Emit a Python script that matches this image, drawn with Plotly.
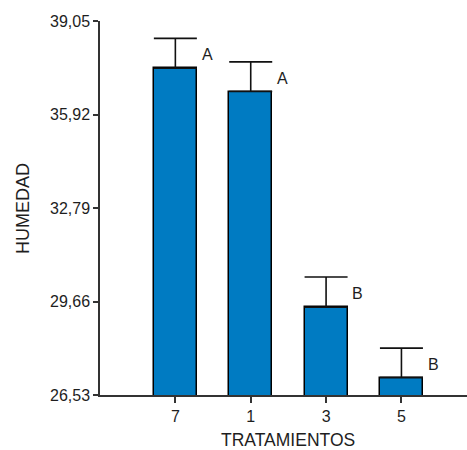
import plotly.graph_objects as go

categories = ["7", "1", "3", "5"]
humedad = [37.47, 36.69, 29.47, 27.11]
error_se = [1.00, 0.99, 1.01, 0.99]
letters = ["A", "A", "B", "B"]
y_ticks = [26.53, 29.66, 32.79, 35.92, 39.05]
y_ticktext = ["26,53", "29,66", "32,79", "35,92", "39,05"]

text_color = "#1e1e1e"
axis_color = "#333333"
bar_color = "rgb(0,123,194)"
fam = "Liberation Sans, Arial, sans-serif"

fig = go.Figure()
fig.add_trace(go.Bar(
    x=categories,
    y=humedad,
    width=0.57,
    marker=dict(color=bar_color, line=dict(color="black", width=1.5)),
    error_y=dict(type="data", symmetric=False, array=error_se,
                 arrayminus=[0] * len(error_se),
                 color="#111111", thickness=1.6, width=21.5),
))

annotations = []
for i, (c, v, e, l) in enumerate(zip(categories, humedad, error_se, letters)):
    annotations.append(dict(
        x=i + 0.42, y=v + e * 0.45, xref="x", yref="y", text=l,
        showarrow=False, font=dict(size=16, color=text_color, family=fam),
        xanchor="center", yanchor="middle"))

annotations.append(dict(
    x=-0.21, y=0.5, xref="paper", yref="paper", text="HUMEDAD",
    textangle=-90, showarrow=False, xanchor="center", yanchor="middle",
    font=dict(size=18, color=text_color, family=fam)))
annotations.append(dict(
    x=0.511, y=-45 / 374.3, xref="paper", yref="paper", text="TRATAMIENTOS",
    showarrow=False, xanchor="center", yanchor="middle",
    font=dict(size=17.5, color=text_color, family=fam)))

fig.update_layout(
    width=467, height=450,
    margin=dict(l=100, r=0, t=21, b=55, pad=0),
    plot_bgcolor="white", paper_bgcolor="white",
    showlegend=False,
    font=dict(family=fam, size=16, color=text_color),
    annotations=annotations,
    bargap=0,
)
fig.update_xaxes(
    type="category", range=[-1, 3.87],
    showline=True, linecolor=axis_color, linewidth=1.5,
    ticks="outside", ticklen=6, tickwidth=1.5, tickcolor=axis_color,
    showgrid=False, zeroline=False,
    tickfont=dict(size=16, color=text_color),
)
fig.update_yaxes(
    range=[26.53, 39.05],
    tickvals=y_ticks, ticktext=y_ticktext,
    showline=True, linecolor=axis_color, linewidth=1.5,
    ticks="outside", ticklen=5, tickwidth=1.5, tickcolor=axis_color,
    showgrid=False, zeroline=False,
    tickfont=dict(size=16, color=text_color),
)

fig.write_html("out.html")
